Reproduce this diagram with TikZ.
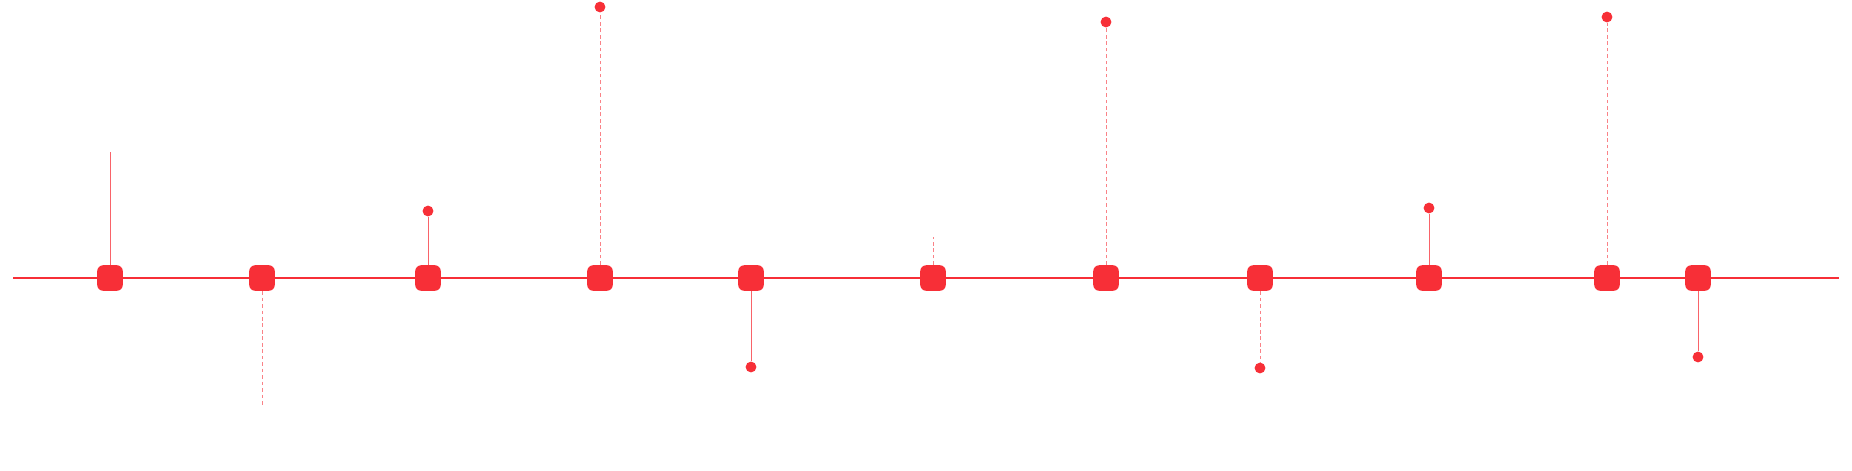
\documentclass[tikz,border=0pt]{standalone}
\usepackage{tikz}
\usetikzlibrary{positioning}
\definecolor{tl}{HTML}{F72F37}

\begin{document}
\begin{tikzpicture}[
  x=0.025cm, y=-0.025cm,
  mark box/.style={fill=tl, rounded corners=0.15cm, minimum size=0.64cm, inner sep=0pt},
  dot/.style={circle, fill=tl, minimum size=0.27cm, inner sep=0pt},
  axis/.style={draw=tl, line width=1.4pt},
  stem/.style={draw=tl!75, line width=0.7pt},
  dstem/.style={stem, draw=tl!60, dash pattern=on 2.6pt off 2pt}
]
\useasboundingbox (0,0) rectangle (1852,470);
\coordinate (l) at (13,278);
\coordinate (r) at (1839,278);
\node[mark box] (s1) at (110,278) {};
\node[mark box] (s2) at (262,278) {};
\node[mark box] (s3) at (428,278) {};
\node[mark box] (s4) at (600,278) {};
\node[mark box] (s5) at (751,278) {};
\node[mark box] (s6) at (933,278) {};
\node[mark box] (s7) at (1106,278) {};
\node[mark box] (s8) at (1260,278) {};
\node[mark box] (s9) at (1429,278) {};
\node[mark box] (s10) at (1607,278) {};
\node[mark box] (s11) at (1698,278) {};
\coordinate (e1) at (110,152);
\coordinate (e2) at (262,405);
\node[dot] (d3) at (428,211) {};
\node[dot] (d4) at (600,7) {};
\node[dot] (d5) at (751,367) {};
\coordinate (e6) at (933,237);
\node[dot] (d7) at (1106,22) {};
\node[dot] (d8) at (1260,368) {};
\node[dot] (d9) at (1429,208) {};
\node[dot] (d10) at (1607,17) {};
\node[dot] (d11) at (1698,357) {};

\draw[axis] (l) -- (s1) -- (s2) -- (s3) -- (s4) -- (s5) -- (s6)
  -- (s7) -- (s8) -- (s9) -- (s10) -- (s11) -- (r);
\draw[stem] (s1) -- (e1);
\draw[dstem] (s2) -- (e2);
\draw[stem] (s3) -- (d3);
\draw[dstem] (s4) -- (d4);
\draw[stem] (s5) -- (d5);
\draw[dstem] (s6) -- (e6);
\draw[dstem] (s7) -- (d7);
\draw[dstem] (s8) -- (d8);
\draw[stem] (s9) -- (d9);
\draw[dstem] (s10) -- (d10);
\draw[stem] (s11) -- (d11);
\end{tikzpicture}
\end{document}
